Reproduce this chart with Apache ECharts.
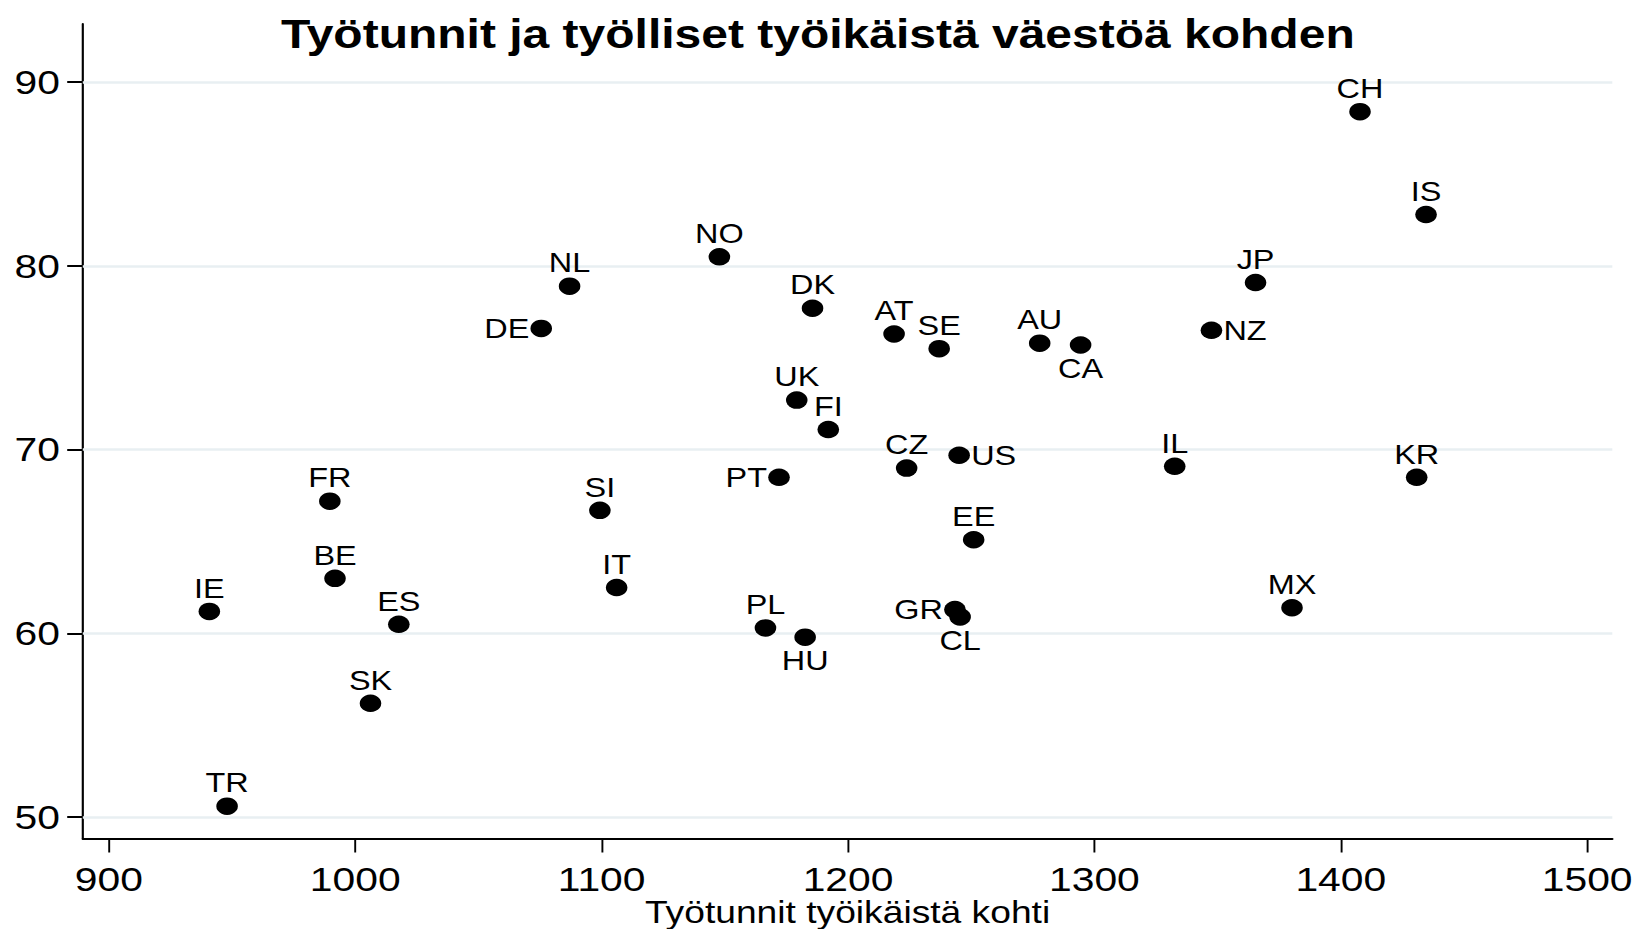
<!DOCTYPE html>
<html>
<head>
<meta charset="utf-8">
<script src="https://cdn.jsdelivr.net/npm/echarts@6/dist/echarts.min.js"></script>
<style>
html,body{margin:0;padding:0;background:#fff;}
#wrap{width:1635px;height:929px;overflow:hidden;position:relative;}
#chart{width:1362.5px;height:929px;transform:scaleX(1.2);transform-origin:0 0;}
</style>
</head>
<body>
<div id="wrap"><div id="chart"></div></div>
<script>
const titleText = 'Työtunnit ja työlliset työikäistä väestöä kohden';
const xName = 'Työtunnit työikäistä kohti';
const countries = ['CH','IS','JP','NZ','AU','CA','NO','NL','DE','DK','AT','SE','UK','FI','CZ','US','PT','IL','KR','FR','SI','EE','BE','IT','IE','ES','MX','GR','CL','PL','HU','SK','TR'];
const hoursPerWorkingAge = [1407.8,1434.6,1365.4,1347.5,1277.8,1294.4,1147.8,1087.0,1075.5,1185.6,1218.7,1237.0,1179.2,1192.0,1223.8,1245.1,1172.0,1332.6,1430.8,989.7,1099.3,1251.0,991.8,1106.1,940.8,1017.7,1380.2,1243.4,1245.5,1166.5,1182.6,1006.2,948.0];
const employedPerWorkingAge = [88.4,82.8,79.1,76.5,75.8,75.7,80.5,78.9,76.6,77.7,76.3,75.5,72.7,71.1,69.0,69.7,68.5,69.1,68.5,67.2,66.7,65.1,63.0,62.5,61.2,60.5,61.4,61.3,60.9,60.3,59.8,56.2,50.6];
const xTicks = [900,1000,1100,1200,1300,1400,1500];
const yTicks = [50,60,70,80,90];

const labelSide = {DE:'left', NZ:'right', CA:'bottom', PT:'left', US:'right', GR:'left', CL:'bottom', HU:'bottom'};

const FONT = "'Liberation Sans', Arial, Helvetica, sans-serif";

const points = countries.map((c, i) => ({
  name: c,
  value: [hoursPerWorkingAge[i], employedPerWorkingAge[i]],
  label: { position: labelSide[c] || 'top' }
}));

const chart = echarts.init(document.getElementById('chart'), null, {renderer: 'svg'});
chart.setOption({
  animation: false,
  backgroundColor: '#ffffff',
  title: {
    text: titleText,
    left: 'center',
    top: 9,
    textStyle: {fontFamily: FONT, fontSize: 40, fontWeight: 'bold', color: '#000', lineHeight: 40}
  },
  grid: {left: 69, right: 19.4, top: 24, bottom: 90.5, containLabel: false, outerBoundsMode: 'none'},
  xAxis: {
    type: 'value',
    min: 889.44,
    max: 1510.2,
    name: xName,
    nameLocation: 'middle',
    nameGap: 59,
    nameMoveOverlap: false,
    nameTextStyle: {fontFamily: FONT, fontSize: 31, color: '#000', lineHeight: 29, verticalAlign: 'top'},
    axisLine: {show: true, onZero: false, lineStyle: {color: '#000', width: 2}},
    axisTick: {show: true, customValues: xTicks, length: 14, lineStyle: {color: '#000', width: 1.6}},
    axisLabel: {customValues: xTicks, margin: 24, fontFamily: FONT, fontSize: 34, color: '#000', lineHeight: 34, formatter: v => String(v)},
    splitLine: {show: false}
  },
  yAxis: {
    type: 'value',
    min: 48.84,
    max: 93.17,
    axisLine: {show: true, onZero: false, lineStyle: {color: '#000', width: 1.8}},
    axisTick: {show: true, customValues: yTicks, length: 13, lineStyle: {color: '#000', width: 2}},
    axisLabel: {customValues: yTicks, margin: 19, fontFamily: FONT, fontSize: 34, color: '#000', formatter: v => String(v)},
    splitLine: {show: false}
  },
  series: [
    {
      type: 'scatter',
      data: [],
      z: 1,
      silent: true,
      markLine: {
        silent: true,
        z: 1,
        symbol: ['none', 'none'],
        label: {show: false},
        emphasis: {disabled: true},
        lineStyle: {type: 'solid', color: '#e8eff2', width: 2.5, opacity: 1},
        data: yTicks.map(v => ({yAxis: v}))
      }
    },
    {
      type: 'scatter',
      z: 3,
      symbol: 'circle',
      symbolSize: [18, 17.5],
      itemStyle: {color: '#000', opacity: 1},
      emphasis: {disabled: true},
      label: {
        show: true,
        formatter: p => p.name,
        fontFamily: FONT,
        fontSize: 27,
        lineHeight: 27,
        color: '#000',
        opacity: 1,
        distance: 1
      },
      data: points
    }
  ]
});
</script>
</body>
</html>
